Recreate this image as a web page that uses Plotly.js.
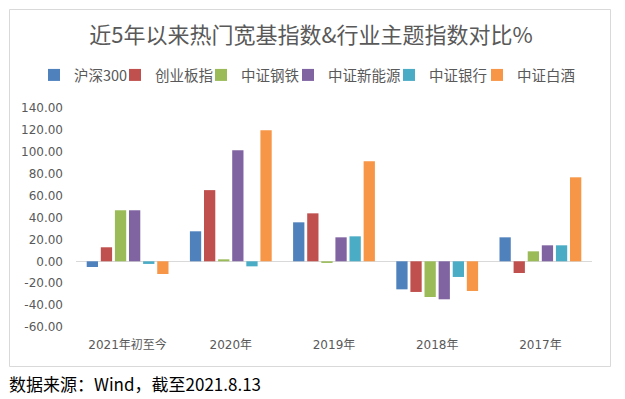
<!DOCTYPE html>
<html>
<head>
<meta charset="utf-8">
<script src="https://cdn.plot.ly/plotly-3.0.1.min.js"></script>
<style>html,body{margin:0;padding:0;background:#fff;}#chart{width:625px;height:399px;}</style>
</head>
<body>
<div id="chart"></div>
<script>
const categories = ['2021年初至今', '2020年', '2019年', '2018年', '2017年'];
const seriesNames = ['沪深300', '创业板指', '中证钢铁', '中证新能源', '中证银行', '中证白酒'];
const hs300   = [-5.2, 27.4, 35.6, -25.6, 21.9];
const cyb     = [12.8, 65.0, 43.8, -28.0, -10.7];
const steel   = [46.6, 1.8, -1.5, -32.6, 9.1];
const newEnergy = [46.6, 101.4, 21.9, -34.7, 14.6];
const bank    = [-2.4, -4.6, 22.8, -14.3, 14.6];
const liquor  = [-11.6, 119.6, 91.3, -27.1, 76.7];
const colors = ['#4F81BD', '#C0504D', '#9BBB59', '#8064A2', '#4BACC6', '#F79646'];
const yTickVals = [-60, -40, -20, 0, 20, 40, 60, 80, 100, 120, 140];
const yTickText = ['-60.00', '-40.00', '-20.00', '0.00', '20.00', '40.00', '60.00', '80.00', '100.00', '120.00', '140.00'];

const allSeries = [hs300, cyb, steel, newEnergy, bank, liquor];
const cjk = '"Noto Sans CJK SC", "Noto Sans", sans-serif';
const num = '"DejaVu Sans", "Noto Sans CJK SC", sans-serif';
const legendWidths = [36, 41, 42, 56, 43, 60];
const data = allSeries.map((vals, i) => ({
  type: 'bar',
  name: seriesNames[i],
  x: categories,
  y: vals,
  marker: {color: colors[i]},
  legendwidth: legendWidths[i],
  hoverinfo: 'x+y+name'
}));

const L = 76, R = 33, T = 108, B = 72, W = 625, H = 399;
const pw = W - L - R, ph = H - T - B;
const px = v => (v - L) / pw;
const py = v => (H - B - v) / ph;

const layout = {
  width: W, height: H,
  margin: {l: L, r: R, t: T, b: B, pad: 0},
  paper_bgcolor: '#fff', plot_bgcolor: '#fff',
  font: {family: cjk, color: '#595959', size: 13},
  title: {
    text: '近5年以来热门宽基指数&行业主题指数对比%',
    font: {family: cjk, size: 22, color: '#595959'},
    xref: 'container', x: 311 / W, xanchor: 'center',
    yref: 'container', y: 1 - 35 / H, yanchor: 'middle'
  },
  barmode: 'group',
  bargap: 0.18,
  bargroupgap: 0.2,
  showlegend: true,
  legend: {
    orientation: 'h', x: px(34), xanchor: 'left', y: py(75), yanchor: 'middle',
    font: {family: cjk, size: 14.5, color: '#595959'},
    itemwidth: 30, traceorder: 'normal', borderwidth: 0, bgcolor: 'rgba(0,0,0,0)'
  },
  xaxis: {
    type: 'category', showgrid: false, showline: false, zeroline: false,
    ticks: '', ticklabelstandoff: 9,
    tickfont: {family: num, size: 12, color: '#595959'}
  },
  yaxis: {
    range: [-60, 140], showgrid: false, showline: false,
    zeroline: true, zerolinecolor: '#D9D9D9', zerolinewidth: 1,
    tickvals: yTickVals, ticktext: yTickText, ticks: '', ticklabelstandoff: 12,
    tickfont: {family: num, size: 12, color: '#595959'}
  },
  shapes: [{
    type: 'rect', xref: 'paper', yref: 'paper',
    x0: px(9.5), x1: px(610.5), y0: py(366.5), y1: py(9.5),
    line: {color: '#D9D9D9', width: 1}, fillcolor: 'rgba(0,0,0,0)', layer: 'below'
  }],
  annotations: [{
    text: '数据来源：Wind，截至2021.8.13', showarrow: false,
    xref: 'paper', yref: 'paper', x: px(7), xanchor: 'left', y: py(383), yanchor: 'middle',
    font: {family: cjk, size: 17, color: '#000'}
  }]
};

Plotly.newPlot('chart', data, layout, {displayModeBar: false, staticPlot: true});
</script>
</body>
</html>
